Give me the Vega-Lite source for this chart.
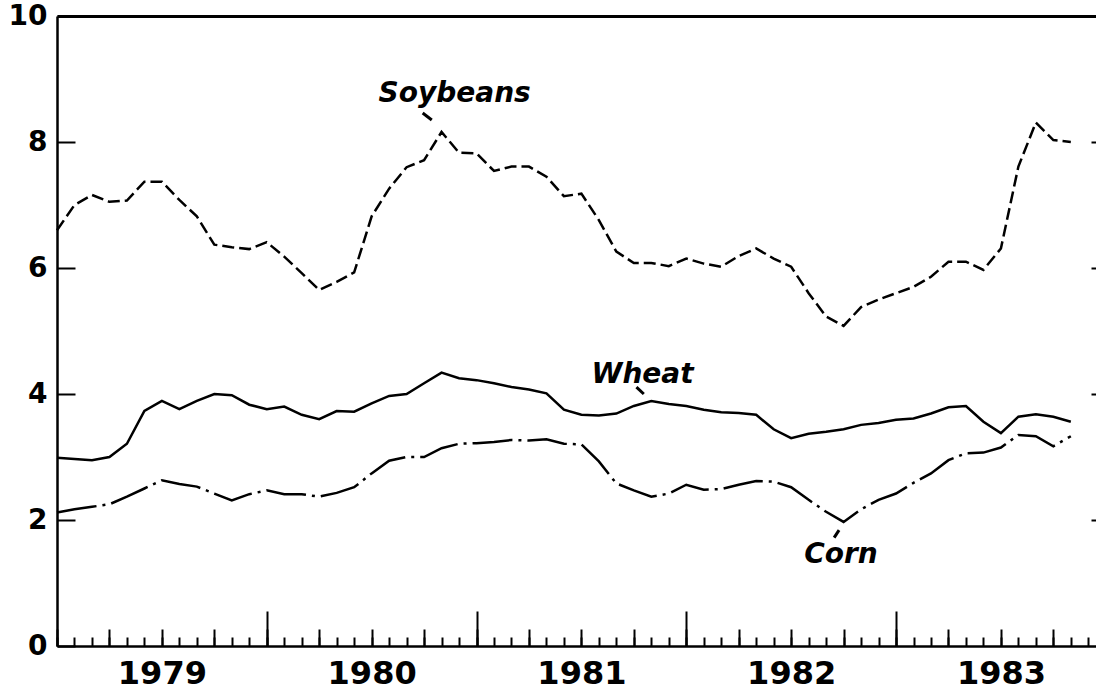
{
  "$schema": "https://vega.github.io/schema/vega-lite/v6.json",
  "autosize": {"type": "none"},
  "width": 1039,
  "height": 630,
  "padding": {"left": 57, "top": 16, "right": 0, "bottom": 49},
  "background": "white",
  "config": {
    "view": {"stroke": null},
    "axis": {"grid": false, "title": null, "domainColor": "black", "tickColor": "black", "labelColor": "black", "labelFont": "DejaVu Sans", "labelFontWeight": "bold", "domainWidth": 2.5, "tickWidth": 2}
  },
  "datasets": {
    "prices": [
      {"m": 0, "c": "Soybeans", "v": 6.60}, {"m": 1, "c": "Soybeans", "v": 7.00}, {"m": 2, "c": "Soybeans", "v": 7.16}, {"m": 3, "c": "Soybeans", "v": 7.05}, {"m": 4, "c": "Soybeans", "v": 7.07}, {"m": 5, "c": "Soybeans", "v": 7.37}, {"m": 6, "c": "Soybeans", "v": 7.37}, {"m": 7, "c": "Soybeans", "v": 7.08}, {"m": 8, "c": "Soybeans", "v": 6.82}, {"m": 9, "c": "Soybeans", "v": 6.37}, {"m": 10, "c": "Soybeans", "v": 6.33}, {"m": 11, "c": "Soybeans", "v": 6.30}, {"m": 12, "c": "Soybeans", "v": 6.41}, {"m": 13, "c": "Soybeans", "v": 6.18}, {"m": 14, "c": "Soybeans", "v": 5.92}, {"m": 15, "c": "Soybeans", "v": 5.65}, {"m": 16, "c": "Soybeans", "v": 5.78}, {"m": 17, "c": "Soybeans", "v": 5.93}, {"m": 18, "c": "Soybeans", "v": 6.82}, {"m": 19, "c": "Soybeans", "v": 7.26}, {"m": 20, "c": "Soybeans", "v": 7.60}, {"m": 21, "c": "Soybeans", "v": 7.71}, {"m": 22, "c": "Soybeans", "v": 8.16}, {"m": 23, "c": "Soybeans", "v": 7.83}, {"m": 24, "c": "Soybeans", "v": 7.82}, {"m": 25, "c": "Soybeans", "v": 7.54}, {"m": 26, "c": "Soybeans", "v": 7.61}, {"m": 27, "c": "Soybeans", "v": 7.61}, {"m": 28, "c": "Soybeans", "v": 7.45}, {"m": 29, "c": "Soybeans", "v": 7.14}, {"m": 30, "c": "Soybeans", "v": 7.18}, {"m": 31, "c": "Soybeans", "v": 6.76}, {"m": 32, "c": "Soybeans", "v": 6.26}, {"m": 33, "c": "Soybeans", "v": 6.08}, {"m": 34, "c": "Soybeans", "v": 6.08}, {"m": 35, "c": "Soybeans", "v": 6.03}, {"m": 36, "c": "Soybeans", "v": 6.15}, {"m": 37, "c": "Soybeans", "v": 6.07}, {"m": 38, "c": "Soybeans", "v": 6.02}, {"m": 39, "c": "Soybeans", "v": 6.19}, {"m": 40, "c": "Soybeans", "v": 6.31}, {"m": 41, "c": "Soybeans", "v": 6.15}, {"m": 42, "c": "Soybeans", "v": 6.02}, {"m": 43, "c": "Soybeans", "v": 5.60}, {"m": 44, "c": "Soybeans", "v": 5.23}, {"m": 45, "c": "Soybeans", "v": 5.08}, {"m": 46, "c": "Soybeans", "v": 5.38}, {"m": 47, "c": "Soybeans", "v": 5.50}, {"m": 48, "c": "Soybeans", "v": 5.60}, {"m": 49, "c": "Soybeans", "v": 5.70}, {"m": 50, "c": "Soybeans", "v": 5.86}, {"m": 51, "c": "Soybeans", "v": 6.10}, {"m": 52, "c": "Soybeans", "v": 6.10}, {"m": 53, "c": "Soybeans", "v": 5.97}, {"m": 54, "c": "Soybeans", "v": 6.31}, {"m": 55, "c": "Soybeans", "v": 7.61}, {"m": 56, "c": "Soybeans", "v": 8.31}, {"m": 57, "c": "Soybeans", "v": 8.03}, {"m": 58, "c": "Soybeans", "v": 8.00},
      {"m": 0, "c": "Wheat", "v": 2.99}, {"m": 1, "c": "Wheat", "v": 2.97}, {"m": 2, "c": "Wheat", "v": 2.95}, {"m": 3, "c": "Wheat", "v": 3.00}, {"m": 4, "c": "Wheat", "v": 3.21}, {"m": 5, "c": "Wheat", "v": 3.73}, {"m": 6, "c": "Wheat", "v": 3.89}, {"m": 7, "c": "Wheat", "v": 3.76}, {"m": 8, "c": "Wheat", "v": 3.89}, {"m": 9, "c": "Wheat", "v": 4.00}, {"m": 10, "c": "Wheat", "v": 3.98}, {"m": 11, "c": "Wheat", "v": 3.83}, {"m": 12, "c": "Wheat", "v": 3.76}, {"m": 13, "c": "Wheat", "v": 3.80}, {"m": 14, "c": "Wheat", "v": 3.67}, {"m": 15, "c": "Wheat", "v": 3.60}, {"m": 16, "c": "Wheat", "v": 3.73}, {"m": 17, "c": "Wheat", "v": 3.72}, {"m": 18, "c": "Wheat", "v": 3.85}, {"m": 19, "c": "Wheat", "v": 3.97}, {"m": 20, "c": "Wheat", "v": 4.00}, {"m": 21, "c": "Wheat", "v": 4.17}, {"m": 22, "c": "Wheat", "v": 4.34}, {"m": 23, "c": "Wheat", "v": 4.25}, {"m": 24, "c": "Wheat", "v": 4.22}, {"m": 25, "c": "Wheat", "v": 4.17}, {"m": 26, "c": "Wheat", "v": 4.11}, {"m": 27, "c": "Wheat", "v": 4.07}, {"m": 28, "c": "Wheat", "v": 4.01}, {"m": 29, "c": "Wheat", "v": 3.75}, {"m": 30, "c": "Wheat", "v": 3.67}, {"m": 31, "c": "Wheat", "v": 3.66}, {"m": 32, "c": "Wheat", "v": 3.69}, {"m": 33, "c": "Wheat", "v": 3.81}, {"m": 34, "c": "Wheat", "v": 3.89}, {"m": 35, "c": "Wheat", "v": 3.84}, {"m": 36, "c": "Wheat", "v": 3.81}, {"m": 37, "c": "Wheat", "v": 3.75}, {"m": 38, "c": "Wheat", "v": 3.71}, {"m": 39, "c": "Wheat", "v": 3.70}, {"m": 40, "c": "Wheat", "v": 3.67}, {"m": 41, "c": "Wheat", "v": 3.44}, {"m": 42, "c": "Wheat", "v": 3.30}, {"m": 43, "c": "Wheat", "v": 3.37}, {"m": 44, "c": "Wheat", "v": 3.40}, {"m": 45, "c": "Wheat", "v": 3.44}, {"m": 46, "c": "Wheat", "v": 3.51}, {"m": 47, "c": "Wheat", "v": 3.54}, {"m": 48, "c": "Wheat", "v": 3.59}, {"m": 49, "c": "Wheat", "v": 3.61}, {"m": 50, "c": "Wheat", "v": 3.69}, {"m": 51, "c": "Wheat", "v": 3.79}, {"m": 52, "c": "Wheat", "v": 3.81}, {"m": 53, "c": "Wheat", "v": 3.56}, {"m": 54, "c": "Wheat", "v": 3.38}, {"m": 55, "c": "Wheat", "v": 3.64}, {"m": 56, "c": "Wheat", "v": 3.68}, {"m": 57, "c": "Wheat", "v": 3.64}, {"m": 58, "c": "Wheat", "v": 3.56},
      {"m": 0, "c": "Corn", "v": 2.12}, {"m": 1, "c": "Corn", "v": 2.17}, {"m": 2, "c": "Corn", "v": 2.21}, {"m": 3, "c": "Corn", "v": 2.25}, {"m": 4, "c": "Corn", "v": 2.37}, {"m": 5, "c": "Corn", "v": 2.50}, {"m": 6, "c": "Corn", "v": 2.63}, {"m": 7, "c": "Corn", "v": 2.57}, {"m": 8, "c": "Corn", "v": 2.53}, {"m": 9, "c": "Corn", "v": 2.42}, {"m": 10, "c": "Corn", "v": 2.31}, {"m": 11, "c": "Corn", "v": 2.41}, {"m": 12, "c": "Corn", "v": 2.47}, {"m": 13, "c": "Corn", "v": 2.41}, {"m": 14, "c": "Corn", "v": 2.41}, {"m": 15, "c": "Corn", "v": 2.37}, {"m": 16, "c": "Corn", "v": 2.43}, {"m": 17, "c": "Corn", "v": 2.52}, {"m": 18, "c": "Corn", "v": 2.74}, {"m": 19, "c": "Corn", "v": 2.94}, {"m": 20, "c": "Corn", "v": 3.00}, {"m": 21, "c": "Corn", "v": 3.00}, {"m": 22, "c": "Corn", "v": 3.14}, {"m": 23, "c": "Corn", "v": 3.21}, {"m": 24, "c": "Corn", "v": 3.22}, {"m": 25, "c": "Corn", "v": 3.24}, {"m": 26, "c": "Corn", "v": 3.27}, {"m": 27, "c": "Corn", "v": 3.26}, {"m": 28, "c": "Corn", "v": 3.28}, {"m": 29, "c": "Corn", "v": 3.21}, {"m": 30, "c": "Corn", "v": 3.20}, {"m": 31, "c": "Corn", "v": 2.93}, {"m": 32, "c": "Corn", "v": 2.58}, {"m": 33, "c": "Corn", "v": 2.47}, {"m": 34, "c": "Corn", "v": 2.37}, {"m": 35, "c": "Corn", "v": 2.42}, {"m": 36, "c": "Corn", "v": 2.56}, {"m": 37, "c": "Corn", "v": 2.48}, {"m": 38, "c": "Corn", "v": 2.49}, {"m": 39, "c": "Corn", "v": 2.56}, {"m": 40, "c": "Corn", "v": 2.62}, {"m": 41, "c": "Corn", "v": 2.61}, {"m": 42, "c": "Corn", "v": 2.52}, {"m": 43, "c": "Corn", "v": 2.32}, {"m": 44, "c": "Corn", "v": 2.13}, {"m": 45, "c": "Corn", "v": 1.97}, {"m": 46, "c": "Corn", "v": 2.17}, {"m": 47, "c": "Corn", "v": 2.32}, {"m": 48, "c": "Corn", "v": 2.42}, {"m": 49, "c": "Corn", "v": 2.59}, {"m": 50, "c": "Corn", "v": 2.74}, {"m": 51, "c": "Corn", "v": 2.95}, {"m": 52, "c": "Corn", "v": 3.06}, {"m": 53, "c": "Corn", "v": 3.07}, {"m": 54, "c": "Corn", "v": 3.15}, {"m": 55, "c": "Corn", "v": 3.35}, {"m": 56, "c": "Corn", "v": 3.33}, {"m": 57, "c": "Corn", "v": 3.17}, {"m": 58, "c": "Corn", "v": 3.33}
    ],
    "labels": [
      {"m": 22.75, "v": 8.64, "label": "Soybeans"},
      {"m": 33.5, "v": 4.17, "label": "Wheat"},
      {"m": 44.85, "v": 1.31, "label": "Corn"}
    ],
    "leaders": [
      {"m": 20.92, "v": 8.46, "m2": 21.44, "v2": 8.35},
      {"m": 33.15, "v": 4.11, "m2": 33.57, "v2": 4.0},
      {"m": 44.74, "v": 1.84, "m2": 44.46, "v2": 1.72}
    ]
  },
  "layer": [
    {
      "data": {"name": "prices"},
      "transform": [{"filter": "datum.c === 'Soybeans'"}],
      "mark": {"type": "line", "color": "black", "strokeWidth": 2.5, "strokeDash": [12, 5]},
      "encoding": {
        "x": {"field": "m", "type": "quantitative", "scale": {"domain": [0, 59.44], "nice": false, "zero": false},
              "axis": {"orient": "bottom", "values": [0,1,2,3,4,5,6,7,8,9,10,11,12,13,14,15,16,17,18,19,20,21,22,23,24,25,26,27,28,29,30,31,32,33,34,35,36,37,38,39,40,41,42,43,44,45,46,47,48,49,50,51,52,53,54,55,56,57,58,59], "tickSize": -9, "labels": false, "domain": true}},
        "y": {"field": "v", "type": "quantitative", "scale": {"domain": [0, 10], "nice": false},
              "axis": {"orient": "left", "values": [0, 2, 4, 6, 8, 10], "tickSize": -18, "labelPadding": 28, "labelFontSize": 28, "domain": true}}
      }
    },
    {
      "data": {"name": "prices"},
      "transform": [{"filter": "datum.c === 'Wheat'"}],
      "mark": {"type": "line", "color": "black", "strokeWidth": 2.5},
      "encoding": {
        "x": {"field": "m", "type": "quantitative",
              "axis": {"orient": "bottom", "values": [0,3,6,9,12,15,18,21,24,27,30,33,36,39,42,45,48,51,54,57], "tickSize": -17, "labels": false, "domain": false}},
        "y": {"field": "v", "type": "quantitative",
              "axis": {"orient": "right", "values": [2, 4, 6, 8], "tickSize": -5, "labels": false, "domain": false}}
      }
    },
    {
      "data": {"name": "prices"},
      "transform": [{"filter": "datum.c === 'Corn'"}],
      "mark": {"type": "line", "color": "black", "strokeWidth": 2.5, "strokeDash": [40, 6, 3, 6]},
      "encoding": {
        "x": {"field": "m", "type": "quantitative",
              "axis": {"orient": "bottom", "values": [12, 24, 36, 48], "tickSize": -35, "labels": false, "domain": false}},
        "y": {"field": "v", "type": "quantitative", "axis": null}
      }
    },
    {
      "data": {"name": "labels"},
      "mark": {"type": "text", "font": "DejaVu Sans", "fontWeight": "bold", "fontStyle": "italic", "fontSize": 28, "align": "center", "baseline": "alphabetic", "color": "black"},
      "encoding": {
        "x": {"field": "m", "type": "quantitative",
              "axis": {"orient": "bottom", "values": [6, 18, 30, 42, 54], "ticks": false, "domain": false, "labelFontSize": 32, "labelPadding": 12,
                       "labelExpr": "datum.value == 6 ? '1979' : datum.value == 18 ? '1980' : datum.value == 30 ? '1981' : datum.value == 42 ? '1982' : '1983'"}},
        "y": {"field": "v", "type": "quantitative", "axis": null},
        "text": {"field": "label"}
      }
    },
    {
      "data": {"name": "leaders"},
      "mark": {"type": "rule", "color": "black", "strokeWidth": 3},
      "encoding": {
        "x": {"field": "m", "type": "quantitative", "axis": {"orient": "top", "ticks": false, "labels": false, "domain": true, "domainWidth": 3}},
        "x2": {"field": "m2"},
        "y": {"field": "v", "type": "quantitative", "axis": null},
        "y2": {"field": "v2"}
      }
    }
  ],
  "resolve": {"scale": {"x": "shared", "y": "shared"}, "axis": {"x": "independent", "y": "independent"}}
}
